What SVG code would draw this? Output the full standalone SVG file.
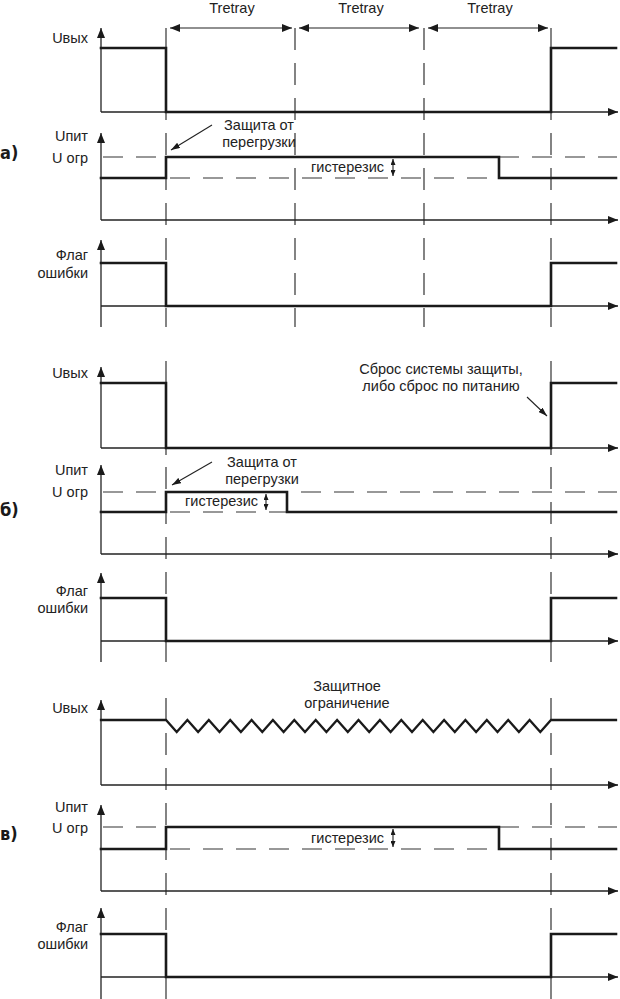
<svg xmlns="http://www.w3.org/2000/svg" width="620" height="999" viewBox="0 0 620 999">
<style>
.bg{fill:#fff}
.ax{stroke:#222;stroke-width:1.3;fill:none}
.tr{stroke:#1a1a1a;stroke-width:2.6;fill:none;stroke-linejoin:miter;stroke-linecap:square}
.gs{stroke:#333;stroke-width:1.2;fill:none}
.gd{stroke:#333;stroke-width:1.2;fill:none;stroke-dasharray:22 13}
.hd{stroke:#333;stroke-width:1.1;fill:none;stroke-dasharray:20 13}
.ld{stroke:#222;stroke-width:1.1;fill:none}
.lb{font-family:'Liberation Sans',Arial,sans-serif;font-size:14.5px;fill:#222}
.lm{font-family:'Liberation Sans',Arial,sans-serif;font-size:14.5px;fill:#222;text-anchor:middle}
.le{font-family:'Liberation Sans',Arial,sans-serif;font-size:14.5px;fill:#222;text-anchor:end}
.sec{font-family:'Liberation Sans Narrow','DejaVu Sans Condensed',sans-serif;font-weight:bold;font-size:18px;fill:#1a1a1a}
</style>
<defs>
<marker id="ah" viewBox="0 0 10 8" refX="10" refY="4" markerWidth="10" markerHeight="8" markerUnits="userSpaceOnUse" orient="auto-start-reverse"><path d="M0,0L10,4L0,8z" fill="#1a1a1a"/></marker>
<marker id="ahs" viewBox="0 0 6 5" refX="6" refY="2.5" markerWidth="6" markerHeight="5" markerUnits="userSpaceOnUse" orient="auto-start-reverse"><path d="M0,0L6,2.5L0,5z" fill="#1a1a1a"/></marker>
<marker id="ahl" viewBox="0 0 9 6" refX="9" refY="3" markerWidth="9" markerHeight="6" markerUnits="userSpaceOnUse" orient="auto"><path d="M0,0L9,3L0,6z" fill="#1a1a1a"/></marker>
</defs>
<rect class="bg" x="0" y="0" width="620" height="999"/>

<g id="guides">
<line class="gs" x1="166" y1="28" x2="166" y2="120"/>
<line class="gd" x1="166" y1="133" x2="166" y2="327"/>
<line class="gd" x1="295" y1="28" x2="295" y2="327"/>
<line class="gd" x1="424" y1="28" x2="424" y2="327"/>
<line class="gs" x1="551" y1="28" x2="551" y2="120"/>
<line class="gd" x1="551" y1="133" x2="551" y2="327"/>
<line class="gs" x1="166" y1="361" x2="166" y2="455"/>
<line class="gd" x1="166" y1="467" x2="166" y2="662"/>
<line class="gs" x1="551" y1="361" x2="551" y2="455"/>
<line class="gd" x1="551" y1="467" x2="551" y2="662"/>
<line class="gd" x1="166" y1="698" x2="166" y2="999"/>
<line class="gd" x1="551" y1="698" x2="551" y2="999"/>
</g>

<g id="tretray">
<text class="lm" x="232" y="13">Tretray</text>
<text class="lm" x="361" y="13">Tretray</text>
<text class="lm" x="490" y="13">Tretray</text>
</g>

<g id="section-a">
<text class="sec" x="0" y="159">а)</text>
<g id="a-uout">
<line class="ax" x1="101" y1="112" x2="101" y2="28" marker-end="url(#ah)"/>
<line class="ax" x1="101" y1="112" x2="618" y2="112" marker-end="url(#ah)"/>
<path class="tr" d="M101,48H166V112H551V48H616"/>
<text class="le" x="88" y="43">Uвых</text>
</g>
<g id="a-upit">
<line class="ax" x1="101" y1="220" x2="101" y2="133" marker-end="url(#ah)"/>
<line class="ax" x1="101" y1="220" x2="618" y2="220" marker-end="url(#ah)"/>
<line class="hd" x1="103" y1="157" x2="617" y2="157"/>
<line class="hd" x1="170" y1="178" x2="499" y2="178"/>
<path class="tr" d="M101,178H166V157H499V178H616"/>
<line class="ld" x1="393" y1="159" x2="393" y2="176" marker-start="url(#ahs)" marker-end="url(#ahs)"/>
<text class="le" x="384" y="172">гистерезис</text>
<text class="le" x="88" y="141">Uпит</text>
<text class="le" x="88" y="163">U огр</text>
<text class="lm" x="259" y="130">Защита от</text>
<text class="lm" x="259" y="147">перегрузки</text>
</g>
<g id="a-flag">
<line class="ax" x1="101" y1="327" x2="101" y2="240" marker-end="url(#ah)"/>
<line class="ax" x1="101" y1="306" x2="618" y2="306" marker-end="url(#ah)"/>
<path class="tr" d="M101,263H166V306H551V263H616"/>
<text class="le" x="88" y="260">Флаг</text>
<text class="le" x="88" y="278">ошибки</text>
</g>
</g>

<g id="section-b">
<text class="sec" x="0" y="516">б)</text>
<g id="b-uout">
<line class="ax" x1="101" y1="448" x2="101" y2="367" marker-end="url(#ah)"/>
<line class="ax" x1="101" y1="448" x2="618" y2="448" marker-end="url(#ah)"/>
<path class="tr" d="M101,383H166V448H551V383H616"/>
<text class="le" x="88" y="378">Uвых</text>
<text class="lm" x="441" y="374">Сброс системы защиты,</text>
<text class="lm" x="441" y="391">либо сброс по питанию</text>
</g>
<g id="b-upit">
<line class="ax" x1="101" y1="554" x2="101" y2="465" marker-end="url(#ah)"/>
<line class="ax" x1="101" y1="554" x2="618" y2="554" marker-end="url(#ah)"/>
<line class="hd" x1="103" y1="492" x2="617" y2="492"/>
<line class="hd" x1="170" y1="512" x2="287" y2="512"/>
<path class="tr" d="M101,512H166V492H287V512H616"/>
<line class="ld" x1="266" y1="494" x2="266" y2="510" marker-start="url(#ahs)" marker-end="url(#ahs)"/>
<text class="le" x="258" y="506">гистерезис</text>
<text class="le" x="88" y="475">Uпит</text>
<text class="le" x="88" y="497">U огр</text>
<text class="lm" x="262" y="467">Защита от</text>
<text class="lm" x="262" y="484">перегрузки</text>
</g>
<g id="b-flag">
<line class="ax" x1="101" y1="662" x2="101" y2="573" marker-end="url(#ah)"/>
<line class="ax" x1="101" y1="641" x2="618" y2="641" marker-end="url(#ah)"/>
<path class="tr" d="M101,598H166V641H551V598H616"/>
<text class="le" x="88" y="596">Флаг</text>
<text class="le" x="88" y="613">ошибки</text>
</g>
</g>

<g id="section-c">
<text class="sec" x="0" y="840">в)</text>
<g id="c-uout">
<line class="ax" x1="101" y1="785" x2="101" y2="700" marker-end="url(#ah)"/>
<line class="ax" x1="101" y1="785" x2="618" y2="785" marker-end="url(#ah)"/>
<path class="tr" style="stroke-width:2.3" d="M101,720H166L176.7,732L187.4,720L198.1,732L208.8,720L219.5,732L230.2,720L240.9,732L251.6,720L262.3,732L272.9,720L283.6,732L294.3,720L305,732L315.7,720L326.4,732L337.1,720L347.8,732L358.5,720L369.2,732L379.9,720L390.6,732L401.3,720L412,732L422.7,720L433.4,732L444.1,720L454.8,732L465.4,720L476.1,732L486.8,720L497.5,732L508.2,720L518.9,732L529.6,720L540.3,732L551,720H616"/>
<text class="le" x="88" y="713">Uвых</text>
<text class="lm" x="347" y="691">Защитное</text>
<text class="lm" x="347" y="708">ограничение</text>
</g>
<g id="c-upit">
<line class="ax" x1="101" y1="891" x2="101" y2="805" marker-end="url(#ah)"/>
<line class="ax" x1="101" y1="891" x2="618" y2="891" marker-end="url(#ah)"/>
<line class="hd" x1="103" y1="827" x2="617" y2="827"/>
<line class="hd" x1="170" y1="849" x2="499" y2="849"/>
<path class="tr" d="M101,849H166V827H499V849H616"/>
<line class="ld" x1="393" y1="829" x2="393" y2="847" marker-start="url(#ahs)" marker-end="url(#ahs)"/>
<text class="le" x="384" y="843">гистерезис</text>
<text class="le" x="88" y="812">Uпит</text>
<text class="le" x="88" y="833">U огр</text>
</g>
<g id="c-flag">
<line class="ax" x1="101" y1="999" x2="101" y2="908" marker-end="url(#ah)"/>
<line class="ax" x1="101" y1="977" x2="618" y2="977" marker-end="url(#ah)"/>
<path class="tr" d="M101,934H166V977H551V934H616"/>
<text class="le" x="88" y="932">Флаг</text>
<text class="le" x="88" y="949">ошибки</text>
</g>
</g>

<g id="connectors">
<line class="ld" x1="170" y1="28" x2="292" y2="28" marker-start="url(#ah)" marker-end="url(#ah)"/>
<line class="ld" x1="299" y1="28" x2="419" y2="28" marker-start="url(#ah)" marker-end="url(#ah)"/>
<line class="ld" x1="428" y1="28" x2="548" y2="28" marker-start="url(#ah)" marker-end="url(#ah)"/>
<line class="ld" x1="212" y1="125" x2="171" y2="150" marker-end="url(#ahl)"/>
<line class="ld" x1="212" y1="462" x2="172" y2="485" marker-end="url(#ahl)"/>
<line class="ld" x1="527" y1="397" x2="547" y2="416" marker-end="url(#ahl)"/>
</g>
</svg>
